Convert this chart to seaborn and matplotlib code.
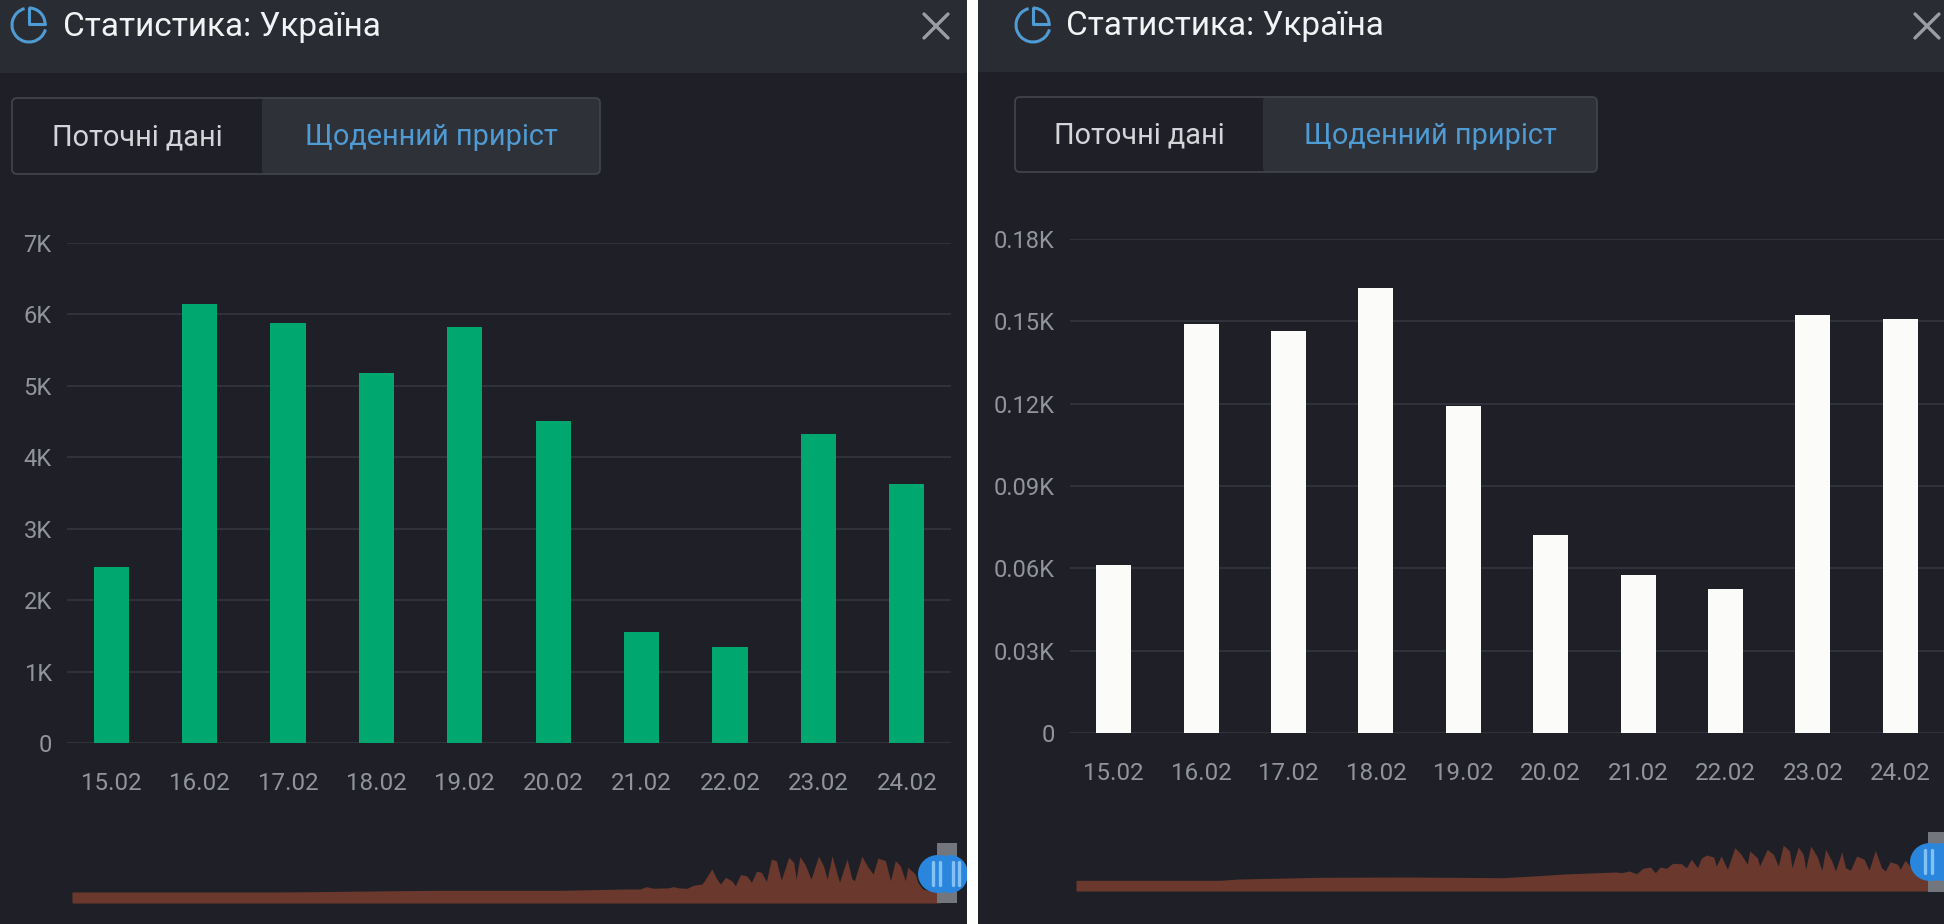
import matplotlib
matplotlib.use("Agg")
import matplotlib.pyplot as plt
from matplotlib.patches import Rectangle, FancyBboxPatch, Ellipse, Arc
import pandas as pd
import seaborn as sns

W, H = 1944, 924
BG = "#1f2027"; HEAD = "#2a2c33"; TAB = "#2f3139"; GRID = "#31333a"; TICK = "#92949d"
BLUE = "#4f9bd3"; GREEN = "#00a870"; WHITE = "#fbfbf9"; BROWN = "#6a382c"

dates = ["15.02", "16.02", "17.02", "18.02", "19.02", "20.02", "21.02", "22.02", "23.02", "24.02"]
cases = [2.47, 6.15, 5.88, 5.18, 5.82, 4.51, 1.55, 1.35, 4.33, 3.63]
deaths = [0.0612, 0.149, 0.1464, 0.1622, 0.1192, 0.072, 0.0575, 0.0526, 0.1523, 0.151]
cases_ticks = [0, 1, 2, 3, 4, 5, 6, 7]
cases_labels = ["0", "1K", "2K", "3K", "4K", "5K", "6K", "7K"]
deaths_ticks = [0, 0.03, 0.06, 0.09, 0.12, 0.15, 0.18]
deaths_labels = ["0", "0.03K", "0.06K", "0.09K", "0.12K", "0.15K", "0.18K"]

title = "Статистика: Україна"
tab_current = "Поточні дані"
tab_daily = "Щоденний приріст"

overview_days_l = [0, 160, 194, 240, 294, 395, 446, 458, 463, 469, 474, 480, 485, 490, 496, 501, 508, 510, 516, 520,
                   523, 527, 532, 535, 539, 544, 548, 552, 556, 560, 564, 568, 572, 578, 582, 584, 587, 591, 596,
                   602, 606, 609, 613, 617, 619, 625, 629, 631, 637, 642, 646, 650, 656, 660, 664, 668, 672, 674,
                   680, 682, 686, 700]
overview_vals_l = [11, 11, 11.3, 12, 12.7, 12.7, 14, 14, 16.3, 14.7, 15, 15, 16.3, 15, 14.7, 17.7, 19, 22.3, 34, 24,
                   19, 25.7, 22.3, 17.3, 28.3, 27.3, 20.7, 31.7, 30.7, 21.7, 44, 42.3, 23, 45.7, 40.7, 24, 46.3, 39,
                   24, 46.7, 37.3, 24, 47.3, 29, 20.7, 44, 24, 22.3, 46.7, 35.7, 29, 45, 42.3, 22.3, 42.3, 37.3,
                   22.3, 35.7, 29, 20.7, 14, 10]
overview_days_r = [0, 116, 131, 197, 267, 343, 368, 393, 434, 439, 445, 451, 456, 462, 466, 470, 475, 480, 487, 491,
                   495, 500, 503, 507, 513, 515, 519, 524, 530, 535, 540, 542, 548, 550, 556, 561, 565, 569, 574,
                   576, 581, 585, 587, 591, 596, 600, 603, 608, 611, 616, 619, 623, 628, 634, 638, 643, 648, 651,
                   655, 661, 663, 667, 672, 675, 687]
overview_vals_r = [10.7, 10.7, 12, 13.7, 14, 13.3, 15, 17, 19, 18.3, 20, 17.3, 22.7, 24, 18.3, 24, 22.7, 27.7, 27.3,
                   23.3, 31.7, 23.3, 32.7, 36, 34, 25, 35, 21.7, 43.3, 36.7, 26.7, 40, 33.3, 25, 41.7, 36.7, 25, 46,
                   40, 23.3, 44, 36.7, 21.7, 45, 35, 20.7, 41.7, 30, 20, 39.3, 23.3, 20.7, 35, 31.7, 20.7, 40.7,
                   23.3, 20, 29.3, 26.7, 21.7, 30.7, 23.3, 18.3, 18]

sns.set_theme(style="dark")
plt.rcParams["font.family"] = ["Roboto", "DejaVu Sans"]

fig = plt.figure(figsize=(W / 100, H / 100), dpi=100, facecolor="white")


def ax_px(left, top, right, bottom, **kw):
    return fig.add_axes([left / W, 1 - bottom / H, (right - left) / W, (bottom - top) / H], **kw)


chrome = ax_px(0, 0, W, H)
chrome.set_xlim(0, W); chrome.set_ylim(H, 0); chrome.axis("off"); chrome.set_zorder(0)


def panel(x0, x1, head_b, tab, title_x, title_y, icon, close):
    chrome.add_patch(Rectangle((x0, 0), x1 - x0, H, color=BG, lw=0))
    chrome.add_patch(Rectangle((x0, 0), x1 - x0, head_b, color=HEAD, lw=0))
    l, split, r, t, b = tab
    chrome.add_patch(FancyBboxPatch((split, t), r - split, b - t, boxstyle="round,pad=0,rounding_size=4",
                                    fc=TAB, ec="none"))
    chrome.add_patch(FancyBboxPatch((l, t), r - l, b - t, boxstyle="round,pad=0,rounding_size=5",
                                    fc="none", ec="#41434b", lw=1.3))
    chrome.text(title_x, title_y, title, color="#f2f3f4", fontsize=24, va="center", ha="left")
    chrome.text((l + split) / 2, (t + b) / 2 + 1, tab_current, color="#d4d5d8", fontsize=20.8, va="center", ha="center")
    chrome.text((split + r) / 2, (t + b) / 2 + 1, tab_daily, color=BLUE, fontsize=20.8, va="center", ha="center")
    cx, cy = icon
    chrome.add_patch(Arc((cx, cy), 34, 34, theta1=15, theta2=255, color=BLUE, lw=2.2))
    chrome.add_patch(Arc((cx, cy - 1), 32, 32, theta1=270, theta2=360, color=BLUE, lw=2.2))
    chrome.plot([cx, cx, cx + 16], [cy - 17, cy - 1, cy - 1], color=BLUE, lw=2.2)
    mx, my = close
    chrome.plot([mx - 12, mx + 12], [my - 12, my + 12], color="#9b9da5", lw=2.4)
    chrome.plot([mx - 12, mx + 12], [my + 12, my - 12], color="#9b9da5", lw=2.4)


panel(0, 967, 73, (12, 262, 600, 98, 174), 63, 27, (29, 25), (936, 26))
panel(978, W, 72, (1015, 1263, 1597, 97, 172), 1066, 26, (1033, 25), (1927, 26))


def bars(rect, values, ticks, labels, color, ymax):
    ax = ax_px(*rect)
    ax.set_zorder(2)
    ax.patch.set_alpha(0)
    df = pd.DataFrame({"date": dates, "value": values})
    sns.barplot(data=df, x="date", y="value", color=color, saturation=1, width=0.4, ax=ax, zorder=3,
                edgecolor="none", linewidth=0)
    ax.set_xlim(-0.5, 9.5)
    ax.set_ylim(0, ymax)
    ax.set_yticks(ticks, labels)
    ax.set_xlabel(""); ax.set_ylabel("")
    ax.grid(axis="y", color=GRID, lw=1.4)
    ax.grid(axis="x", visible=False)
    ax.set_axisbelow(True)
    for s in ax.spines.values():
        s.set_visible(False)
    ax.tick_params(axis="y", length=0, labelsize=17, labelcolor=TICK, pad=11)
    ax.tick_params(axis="x", length=0, labelsize=17.4, labelcolor=TICK, pad=21)
    return ax


bars((67, 243, 951, 743), cases, cases_ticks, cases_labels, GREEN, 7)
bars((1070, 239, W, 733), deaths, deaths_ticks, deaths_labels, WHITE, 0.18)


def overview(rect, days, vals, xmax):
    ax = ax_px(*rect)
    ax.set_zorder(1)
    ax.axis("off")
    ax.fill_between(days, vals, 0, color=BROWN, lw=0)
    ax.set_xlim(0, xmax)
    ax.set_ylim(0, rect[3] - rect[1])


overview((72, 843, 940, 903), overview_days_l, overview_vals_l, 700)
overview((1076, 832, 1930, 891), overview_days_r, overview_vals_r, 687)

top = ax_px(0, 0, W, H)
top.set_xlim(0, W); top.set_ylim(H, 0); top.axis("off"); top.set_zorder(3); top.patch.set_alpha(0)
HANDLE = "#2a86dc"
top.add_patch(Rectangle((937, 843), 20, 60, color="#74767d", lw=0))
top.add_patch(Ellipse((938, 874), 40, 38, color=HANDLE, lw=0))
top.add_patch(Ellipse((950, 874), 36, 38, color=HANDLE, lw=0))
for x in (933, 940, 953, 959):
    top.plot([x, x], [862, 885], color="#84c0f2", lw=2.4)
top.add_patch(Rectangle((1928, 832), 16, 60, color="#74767d", lw=0))
top.add_patch(Ellipse((1930, 862), 40, 38, color=HANDLE, lw=0))
top.add_patch(Ellipse((1942, 862), 36, 38, color=HANDLE, lw=0))
for x in (1925, 1932):
    top.plot([x, x], [850, 873], color="#84c0f2", lw=2.4)
top.add_patch(Rectangle((967, 0), 11, H, color="white", lw=0))

fig.savefig("out.png", dpi=100, facecolor="white")
